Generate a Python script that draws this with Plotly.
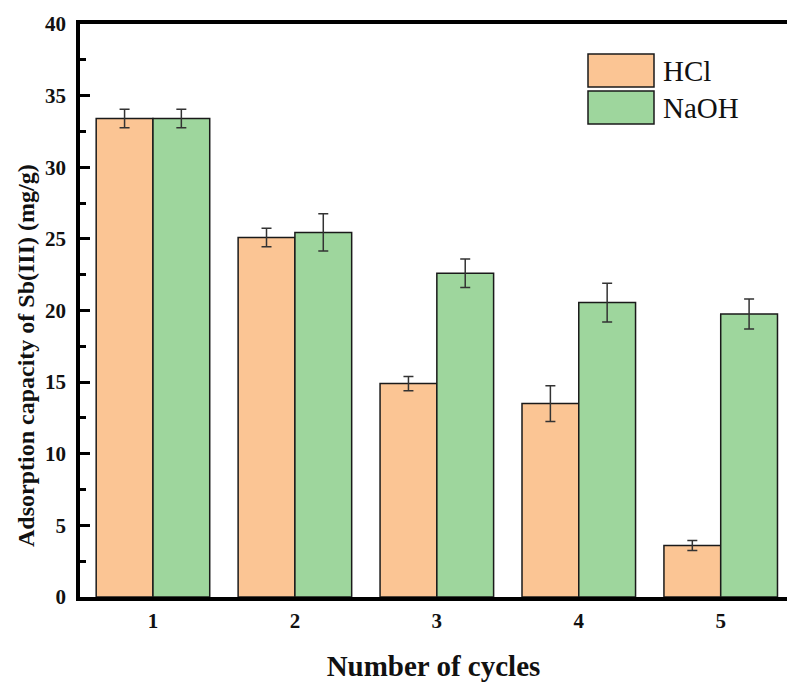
import plotly.graph_objects as go

cycles = [1, 2, 3, 4, 5]
hcl = [33.4, 25.1, 14.9, 13.5, 3.6]
hcl_err = [0.65, 0.65, 0.5, 1.25, 0.35]
naoh = [33.4, 25.45, 22.6, 20.55, 19.75]
naoh_err = [0.65, 1.3, 1.0, 1.35, 1.05]
y_ticks = [0, 5, 10, 15, 20, 25, 30, 35, 40]

c_hcl = "#FBC594"
c_naoh = "#9ED69D"
font_fam = "Liberation Serif, Times New Roman, serif"

fig = go.Figure()
fig.add_trace(go.Bar(
    x=cycles, y=hcl, name="HCl", offsetgroup="a",
    marker=dict(color=c_hcl, line=dict(color="#1a1a1a", width=1.5)),
    error_y=dict(type="data", array=hcl_err, color="#333333", thickness=1.5, width=5),
    showlegend=False,
))
fig.add_trace(go.Bar(
    x=cycles, y=naoh, name="NaOH", offsetgroup="b",
    marker=dict(color=c_naoh, line=dict(color="#1a1a1a", width=1.5)),
    error_y=dict(type="data", array=naoh_err, color="#333333", thickness=1.5, width=5),
    showlegend=False,
))

# custom legend (paper coordinates)
legend_items = [("HCl", c_hcl), ("NaOH", c_naoh)]
W, H = 787, 682
ml, mr, mt, mb = 80, 0, 24, 85
pw, ph = W - ml - mr, H - mt - mb
def px(xp):
    return (xp - ml) / pw
def py(yp):
    return 1 - (yp - mt) / ph
shapes = []
annotations = []
for i, (lab, col) in enumerate(legend_items):
    y0, y1 = 54 + i * 37, 87 + i * 37
    shapes.append(dict(type="rect", xref="paper", yref="paper",
                       x0=px(588), x1=px(654), y0=py(y1), y1=py(y0),
                       fillcolor=col, line=dict(color="#1a1a1a", width=1.5)))
    annotations.append(dict(xref="paper", yref="paper", x=px(661), y=py((y0 + y1) / 2),
                            text=lab, showarrow=False, xanchor="left", yanchor="middle",
                            font=dict(family=font_fam, size=29, color="#111111")))

# y-axis title as rotated annotation
annotations.append(dict(xref="paper", yref="paper", x=px(26), y=py(356),
                        text="<b>Adsorption capacity of Sb(III) (mg/g)</b>", textangle=-90,
                        showarrow=False, xanchor="center", yanchor="middle",
                        font=dict(family=font_fam, size=24, color="#111111")))

fig.update_layout(
    width=W, height=H,
    margin=dict(l=ml, r=mr, t=mt, b=mb, autoexpand=False),
    paper_bgcolor="white", plot_bgcolor="white",
    barmode="group", bargap=0.2, bargroupgap=0,
    font=dict(family=font_fam, color="#111111"),
    shapes=shapes, annotations=annotations,
    xaxis=dict(
        range=[0.486, 5.467], tickmode="array", tickvals=cycles,
        ticktext=[str(c) for c in cycles],
        showline=True, linecolor="black", linewidth=3.5, mirror=True,
        ticks="", showgrid=False, zeroline=False, automargin=False,
        tickfont=dict(family=font_fam, size=21, color="#111111", weight="bold"),
        ticklabelstandoff=2,
        title=dict(text="<b>Number of cycles</b>", font=dict(family=font_fam, size=29), standoff=25),
    ),
    yaxis=dict(
        range=[0, 40], tickmode="array", tickvals=y_ticks,
        showline=True, linecolor="black", linewidth=3.5, mirror=False,
        ticks="inside", ticklen=10, tickwidth=3, tickcolor="black",
        minor=dict(ticks="inside", ticklen=6, tickwidth=3, tickcolor="black", dtick=2.5, showgrid=False),
        showgrid=False, zeroline=False, automargin=False,
        tickfont=dict(family=font_fam, size=21, color="#111111", weight="bold"),
        ticklabelstandoff=6,
    ),
)

fig.write_html("out.html", config={"displayModeBar": False},
               post_script="document.body.style.margin='0';document.body.style.overflow='hidden';")
